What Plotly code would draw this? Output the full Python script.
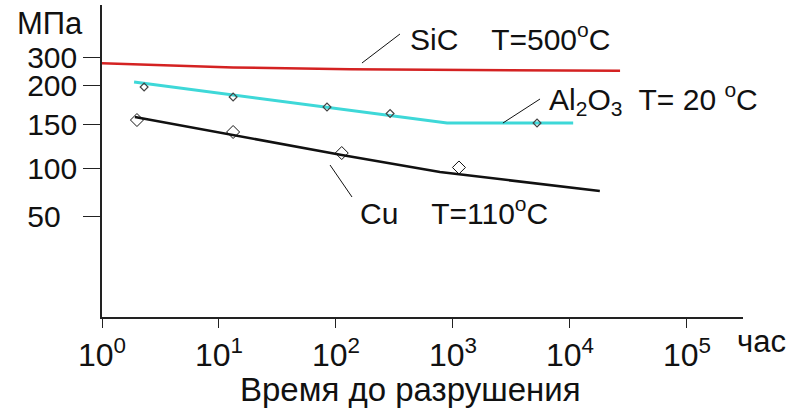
import numpy as np
import plotly.graph_objects as go

# ---- axis definitions (the stress axis of the original is non-uniform) ----
Y_TICK_VALUES = [50, 100, 150, 200, 300]
Y_TICK_TEXT = ["50\u00a0\u00a0", "100", "150", "200", "300"]
Y_SCALE_STRESS = [0, 50, 100, 150, 200, 300]
Y_SCALE_POS = [0, 101, 149, 193, 232, 260]

X_TICK_VALUES = [1, 10, 100, 1000, 10000, 100000]
X_TICK_TEXT = ["10<sup>0</sup>", "10<sup>1</sup>", "10<sup>2</sup>",
               "10<sup>3</sup>", "10<sup>4</sup>", "10<sup>5</sup>"]

# ---- data: time to failure (hours) vs stress (MPa) ----
sic_hours = [1, 13.2, 132, 2080, 26800]
sic_mpa = [277.5, 262.5, 256, 253.6, 251]

al_hours = [1.88, 890, 10650]
al_mpa = [210.7, 151.3, 151.3]
al_pts_hours = [2.29, 13.2, 83.8, 290, 5230]
al_pts_mpa = [197.4, 184.6, 171.8, 163.5, 151.3]

cu_hours = [1.91, 112, 774, 18000]
cu_mpa = [159, 114.8, 95.8, 76]
cu_pts_hours = [1.99, 13.2, 112, 1125]
cu_pts_mpa = [155.1, 140.9, 117, 100.6]


def ypos(v):
    return np.interp(v, Y_SCALE_STRESS, Y_SCALE_POS)


FONT = "Liberation Sans, Arial, sans-serif"

fig = go.Figure()
fig.add_trace(go.Scatter(x=sic_hours, y=ypos(sic_mpa), mode="lines",
                         line=dict(color="#d42222", width=2.5), hoverinfo="skip"))
fig.add_trace(go.Scatter(x=al_hours, y=ypos(al_mpa), mode="lines",
                         line=dict(color="#3ed8d8", width=3), hoverinfo="skip"))
fig.add_trace(go.Scatter(x=al_pts_hours, y=ypos(al_pts_mpa), mode="markers",
                         marker=dict(symbol="diamond-open", size=6, color="#444",
                                     line=dict(width=1.2)), hoverinfo="skip"))
fig.add_trace(go.Scatter(x=cu_hours, y=ypos(cu_mpa), mode="lines",
                         line=dict(color="#111111", width=2.5), hoverinfo="skip"))
fig.add_trace(go.Scatter(x=cu_pts_hours, y=ypos(cu_pts_mpa), mode="markers",
                         marker=dict(symbol="diamond-open", size=10, color="#111",
                                     line=dict(width=1)), hoverinfo="skip"))

# leader lines (log10 hours, scale position)
leaders = [((2.222, 254), (2.547, 283)),
           ((3.427, 194), (3.744, 218)),
           ((1.949, 152), (2.137, 120))]
for (x0, y0), (x1, y1) in leaders:
    fig.add_shape(type="line", xref="x", yref="y", x0=10 ** x0, y0=y0,
                  x1=10 ** x1, y1=y1, line=dict(color="#111", width=1))

labels = [
    (2.615, 280, "SiC\u00a0\u00a0\u00a0 T=500<sup>o</sup>C"),
    (3.803, 218, "Al<sub>2</sub>O<sub>3</sub>\u00a0 T= 20 <sup>o</sup>C"),
    (2.188, 106, "Cu\u00a0\u00a0\u00a0 T=110<sup>o</sup>C"),
]
for x, y, t in labels:
    fig.add_annotation(x=x, y=y, xref="x", yref="y", text=t, showarrow=False,
                       xanchor="left", yanchor="middle",
                       font=dict(family=FONT, size=30, color="#111"))

fig.add_annotation(x=-0.1357, y=0.942, xref="paper", yref="paper", text="МПа",
                   showarrow=False, xanchor="left", yanchor="middle",
                   font=dict(family=FONT, size=31, color="#111"))
fig.add_annotation(x=0.9875, y=-0.077, xref="paper", yref="paper", text="час",
                   showarrow=False, xanchor="left", yanchor="middle",
                   font=dict(family=FONT, size=31, color="#111"))
fig.add_annotation(x=0.4805, y=-0.2308, xref="paper", yref="paper",
                   text="Время до разрушения", showarrow=False,
                   xanchor="center", yanchor="middle",
                   font=dict(family=FONT, size=33, color="#111"))

fig.update_xaxes(type="log", range=[0, 5.479], tickmode="array",
                 tickvals=X_TICK_VALUES, ticktext=X_TICK_TEXT,
                 ticks="outside", ticklen=9, tickwidth=1.2, tickcolor="#222",
                 showline=True, linecolor="#222", linewidth=1.5,
                 showgrid=False, zeroline=False,
                 tickfont=dict(family=FONT, size=32, color="#111"))
fig.update_yaxes(range=[0, 312], tickmode="array",
                 tickvals=list(ypos(Y_TICK_VALUES)), ticktext=Y_TICK_TEXT,
                 ticks="outside", ticklen=17, tickwidth=1.2, tickcolor="#222",
                 showline=True, linecolor="#222", linewidth=1.5,
                 showgrid=False, zeroline=False,
                 tickfont=dict(family=FONT, size=30, color="#111"))

fig.update_layout(width=796, height=410, showlegend=False,
                  margin=dict(l=102, r=53, t=5, b=93),
                  paper_bgcolor="white", plot_bgcolor="white")

fig.write_html("out.html")
